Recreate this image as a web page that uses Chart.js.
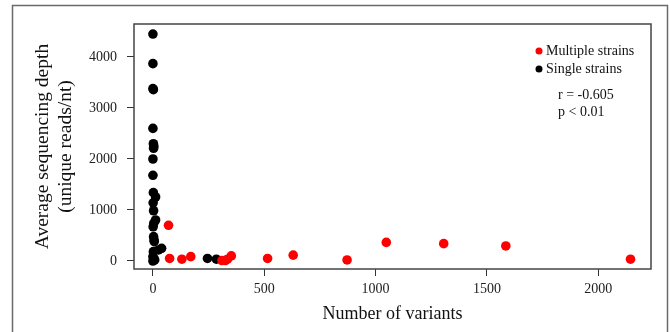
<!DOCTYPE html>
<html>
<head>
<meta charset="utf-8">
<script src="https://cdn.jsdelivr.net/npm/chart.js@4.4.0/dist/chart.umd.min.js"></script>
<style>
  html, body { margin: 0; padding: 0; background: #fff; }
  #wrap { width: 670px; height: 332px; }
</style>
</head>
<body>
<div id="wrap"><canvas id="scatter" width="670" height="332"></canvas></div>
<script>
// Multiple strains (red)
const multipleX = [70, 75, 130, 170, 310, 325, 335, 352, 515, 630, 872, 1048, 1306, 1585, 2145];
const multipleY = [700, 50, 35, 85, 10, 10, 35, 100, 50, 115, 20, 365, 340, 295, 35];

// Single strains (black)
const singleX = [0, 0, 0, 2, 0, 2, 4, 3, 0, 0, 2, 12, 1, 3, 12, 4, 1, 3, 5, 6, 39, 25, 2, 0, 4, 8, 0, 245, 285];
const singleY = [4450, 3870, 3380, 3360, 2600, 2300, 2250, 2210, 2000, 1680, 1340, 1255, 1140, 985, 804, 740, 670, 477, 412, 380, 249, 216, 183, 85, 52, 20, 0, 50, 35];

const xTicks = [0, 500, 1000, 1500, 2000];
const yTicks = [0, 1000, 2000, 3000, 4000];

const serif = '"Liberation Serif", "Times New Roman", serif';

function toPoints(xs, ys) {
    return xs.map((x, i) => ({ x: x, y: ys[i] }));
}

// Outer frame, plot box, legend and stats text
const decorations = {
    id: 'decorations',
    beforeDraw(chart) {
        const ctx = chart.ctx;
        ctx.save();
        ctx.fillStyle = '#fff';
        ctx.fillRect(0, 0, chart.width, chart.height);
        ctx.strokeStyle = '#6a6a6a';
        ctx.lineWidth = 1.5;
        ctx.strokeRect(12.5, 5.5, 655, 340);
        ctx.restore();
    },
    afterDraw(chart) {
        const ctx = chart.ctx;
        const a = chart.chartArea;
        ctx.save();
        ctx.strokeStyle = '#444';
        ctx.lineWidth = 1.5;
        ctx.strokeRect(a.left, a.top, a.right - a.left, a.bottom - a.top);

        ctx.font = '14px ' + serif;
        ctx.textBaseline = 'middle';
        ctx.fillStyle = '#111';
        const items = [['#ff0000', 'Multiple strains', 51], ['#000', 'Single strains', 69]];
        items.forEach(([c, label, y]) => {
            ctx.beginPath();
            ctx.arc(539, y, 3.5, 0, Math.PI * 2);
            ctx.fillStyle = c;
            ctx.fill();
            ctx.fillStyle = '#111';
            ctx.fillText(label, 546, y);
        });
        ctx.fillText('r = -0.605', 558, 95);
        ctx.fillText('p < 0.01', 558, 112);
        ctx.restore();
    }
};

new Chart(document.getElementById('scatter'), {
    type: 'scatter',
    data: {
        datasets: [{
            label: 'Multiple strains',
            data: toPoints(multipleX, multipleY),
            backgroundColor: '#ff0000',
            borderWidth: 0,
            pointRadius: 4.8
        }, {
            label: 'Single strains',
            data: toPoints(singleX, singleY),
            backgroundColor: '#000',
            borderWidth: 0,
            pointRadius: 4.8
        }]
    },
    options: {
        responsive: false,
        animation: false,
        layout: { padding: { top: 24, right: 19, left: 0, bottom: 0 } },
        plugins: {
            legend: { display: false },
            tooltip: { enabled: false }
        },
        scales: {
            x: {
                type: 'linear',
                min: -85,
                max: 2237,
                afterBuildTicks: s => { s.ticks = xTicks.map(v => ({ value: v })); },
                afterFit: s => { s.height = 63; },
                border: { display: false },
                grid: { drawOnChartArea: false, drawTicks: true, tickLength: 7, color: '#333' },
                ticks: { color: '#222', padding: 5, maxRotation: 0, callback: v => String(v), font: { family: serif, size: 14 } },
                title: {
                    display: true,
                    text: 'Number of variants',
                    color: '#111',
                    padding: { top: 0, bottom: 7 },
                    font: { family: serif, size: 18 }
                }
            },
            y: {
                type: 'linear',
                min: -157,
                max: 4647,
                afterBuildTicks: s => { s.ticks = yTicks.map(v => ({ value: v })); },
                afterFit: s => { s.width = 134; },
                border: { display: false },
                grid: { drawOnChartArea: false, drawTicks: true, tickLength: 7, color: '#333' },
                ticks: { color: '#222', padding: 10, callback: v => String(v), font: { family: serif, size: 14 } },
                title: {
                    display: true,
                    text: ['Average sequencing depth', '(unique reads/nt)'],
                    color: '#111',
                    padding: { top: 31.5, bottom: 0 },
                    font: { family: serif, size: 19.5, lineHeight: 1.18 }
                }
            }
        }
    },
    plugins: [decorations]
});
</script>
</body>
</html>
